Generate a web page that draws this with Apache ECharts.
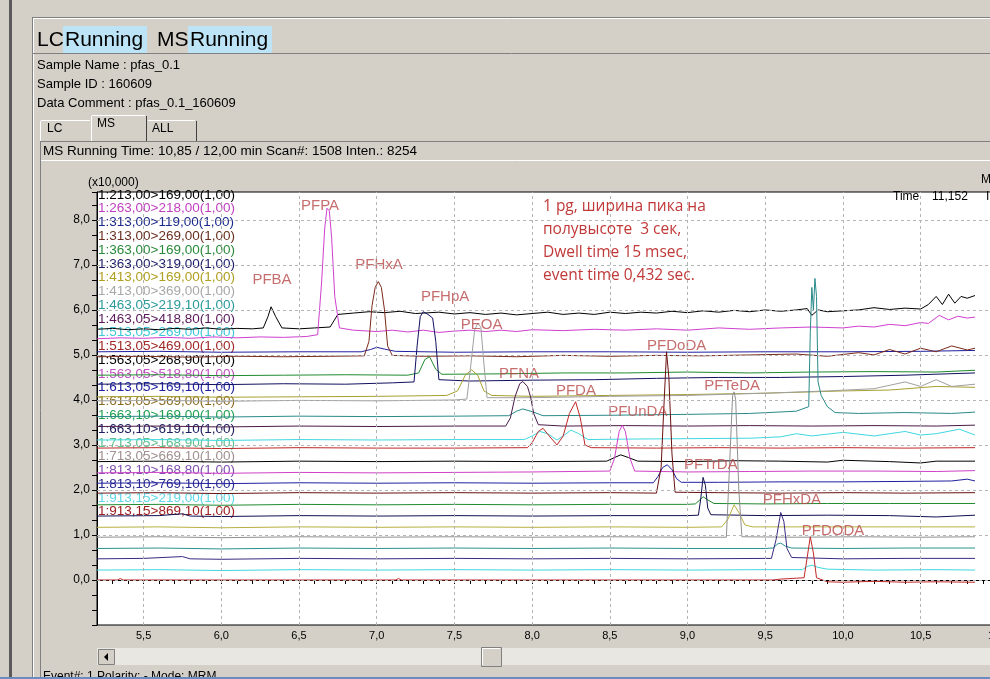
<!DOCTYPE html>
<html><head><meta charset="utf-8">
<script src="https://cdn.jsdelivr.net/npm/echarts@6.0.0/dist/echarts.min.js"></script>
<style>html,body{margin:0;padding:0;background:#d4d0c8}#c{width:990px;height:679px}</style>
</head><body><div id="c"></div><script>
// ---- transitions (legend labels) ----
const transitions = [
'1:213,00>169,00(1,00)','1:263,00>218,00(1,00)','1:313,00>119,00(1,00)','1:313,00>269,00(1,00)',
'1:363,00>169,00(1,00)','1:363,00>319,00(1,00)','1:413,00>169,00(1,00)','1:413,00>369,00(1,00)',
'1:463,05>219,10(1,00)','1:463,05>418,80(1,00)','1:513,05>269,00(1,00)','1:513,05>469,00(1,00)',
'1:563,05>268,90(1,00)','1:563,05>518,80(1,00)','1:613,05>169,10(1,00)','1:613,05>569,00(1,00)',
'1:663,10>169,00(1,00)','1:663,10>619,10(1,00)','1:713,05>168,90(1,00)','1:713,05>669,10(1,00)',
'1:813,10>168,80(1,00)','1:813,10>769,10(1,00)','1:913,15>219,00(1,00)','1:913,15>869,10(1,00)'];
const legendColors = ['#000000','#c040c0','#1c2a8c','#6a3020','#2a8a3a','#1a1a6a','#b0a020','#a8a8a8',
'#2a9a9a','#5a1a5a','#40c8d8','#a02828','#000000','#c050c0','#2020a0','#8a6a20',
'#20a050','#202060','#60c090','#a09090','#8050b0','#2a2a90','#60d8e8','#a02020'];
const traceColors = ['#000000','#d040d0','#2020a0','#7a2a1a','#208a30','#101060','#a8a030','#a0a0a0',
'#2a8a8a','#4a1a4a','#40d8e0','#c02828','#000000','#d040c8','#2020a0','#6a1010',
'#208a30','#101050','#b8b040','#909090','#2a9090','#3a2a80','#40d8e0','#c02828'];

// ---- chromatograms: [time (min), intensity (x10,000)] ----
const t213_169 = [[5.2,5.57],[5.3,5.59],[5.4,5.56],[5.5,5.58],[5.6,5.56],[5.7,5.59],[5.8,5.57],[5.9,5.6],[6.0,5.57],[6.1,5.59],[6.2,5.58],[6.27,5.6],[6.3,5.85],[6.32,6.07],[6.35,5.85],[6.39,5.6],[6.5,5.58],[6.6,5.6],[6.7,5.62],[6.75,5.9],[6.85,5.93],[6.95,5.96],[7.05,5.94],[7.15,5.97],[7.25,5.92],[7.4,5.95],[7.5,5.91],[7.6,5.94],[7.7,5.9],[7.8,5.93],[7.9,5.89],[8.0,5.92],[8.1,5.95],[8.2,5.9],[8.3,5.93],[8.4,5.9],[8.5,5.95],[8.6,5.92],[8.7,5.95],[8.8,5.93],[8.9,5.97],[9.0,5.94],[9.1,5.98],[9.2,5.95],[9.3,5.99],[9.4,5.96],[9.5,6.0],[9.6,5.97],[9.7,6.0],[9.77,6.03],[9.8,5.88],[9.84,6.0],[9.9,5.96],[10.0,5.98],[10.1,6.0],[10.2,6.05],[10.3,6.01],[10.4,6.04],[10.5,6.02],[10.55,6.12],[10.6,6.3],[10.64,6.12],[10.68,6.35],[10.72,6.15],[10.76,6.3],[10.8,6.26],[10.85,6.32]];
const t263_218 = [[5.2,5.36],[5.35,5.38],[5.5,5.37],[5.65,5.39],[5.8,5.37],[5.95,5.4],[6.1,5.38],[6.25,5.4],[6.4,5.39],[6.55,5.41],[6.62,5.45],[6.645,6.6],[6.665,7.8],[6.68,8.26],[6.695,8.2],[6.71,7.6],[6.73,6.3],[6.76,5.6],[6.85,5.55],[7.0,5.52],[7.1,5.55],[7.2,5.51],[7.3,5.55],[7.4,5.5],[7.5,5.53],[7.6,5.55],[7.7,5.52],[7.8,5.55],[7.9,5.52],[8.0,5.56],[8.2,5.54],[8.4,5.57],[8.6,5.55],[8.8,5.58],[9.0,5.55],[9.2,5.6],[9.4,5.57],[9.6,5.6],[9.8,5.62],[10.0,5.6],[10.1,5.64],[10.2,5.62],[10.3,5.68],[10.4,5.65],[10.5,5.72],[10.55,5.7],[10.62,5.88],[10.68,5.78],[10.74,5.86],[10.8,5.82],[10.85,5.84]];
const t313_119 = [[5.2,5.07],[5.6,5.08],[6.0,5.06],[6.5,5.07],[6.9,5.07],[6.96,5.12],[7.0,5.17],[7.05,5.13],[7.12,5.08],[7.5,5.06],[8.0,5.07],[8.5,5.07],[9.0,5.06],[9.5,5.07],[10.0,5.07],[10.5,5.08],[10.85,5.1]];
const t313_269 = [[5.2,4.96],[5.5,4.97],[5.8,4.95],[6.1,4.97],[6.4,4.96],[6.7,4.97],[6.92,4.98],[6.95,5.3],[6.97,6.1],[6.99,6.5],[7.01,6.63],[7.03,6.5],[7.05,6.0],[7.07,5.2],[7.1,4.99],[7.3,4.97],[7.6,4.98],[7.9,4.96],[8.2,4.99],[8.5,4.97],[8.8,4.99],[9.1,4.98],[9.4,5.0],[9.7,5.02],[9.9,4.97],[10.1,5.05],[10.2,5.0],[10.3,5.12],[10.4,5.02],[10.5,5.15],[10.6,5.07],[10.7,5.2],[10.8,5.11],[10.85,5.15]];
const t363_169 = [[5.2,4.55],[5.6,4.56],[6.0,4.54],[6.4,4.55],[6.8,4.56],[7.2,4.55],[7.27,4.6],[7.31,4.9],[7.34,4.96],[7.38,4.68],[7.42,4.57],[7.8,4.58],[8.2,4.6],[8.6,4.6],[9.0,4.62],[9.4,4.6],[9.8,4.62],[10.2,4.63],[10.6,4.62],[10.85,4.66]];
const t363_319 = [[5.2,4.35],[5.6,4.36],[6.0,4.34],[6.4,4.36],[6.8,4.35],[7.1,4.38],[7.24,4.4],[7.26,5.2],[7.28,5.85],[7.3,5.96],[7.33,5.9],[7.36,5.82],[7.38,5.3],[7.4,4.45],[7.6,4.42],[8.0,4.44],[8.4,4.45],[8.8,4.48],[9.2,4.5],[9.6,4.5],[10.0,4.52],[10.4,4.55],[10.85,4.6]];
const t413_169 = [[5.2,4.07],[5.6,4.08],[6.0,4.06],[6.5,4.07],[7.0,4.08],[7.45,4.1],[7.52,4.2],[7.57,4.55],[7.61,4.67],[7.65,4.55],[7.69,4.2],[7.74,4.1],[8.0,4.08],[8.5,4.1],[9.0,4.12],[9.5,4.15],[9.8,4.18],[10.0,4.2],[10.3,4.22],[10.6,4.3],[10.85,4.28]];
const t413_369 = [[5.2,3.98],[5.6,3.99],[6.0,3.97],[6.5,3.99],[7.0,3.98],[7.5,4.0],[7.58,4.02],[7.6,4.6],[7.63,5.55],[7.65,5.7],[7.67,5.62],[7.69,4.8],[7.71,4.05],[8.0,4.05],[8.5,4.08],[9.0,4.1],[9.5,4.15],[9.9,4.2],[10.2,4.25],[10.4,4.4],[10.5,4.3],[10.6,4.45],[10.7,4.3],[10.85,4.35]];
const t463_219 = [[5.2,3.63],[5.6,3.64],[6.0,3.62],[6.5,3.64],[7.0,3.63],[7.5,3.64],[7.85,3.65],[7.9,3.75],[7.94,3.8],[8.0,3.74],[8.07,3.65],[8.5,3.66],[9.0,3.68],[9.4,3.7],[9.7,3.75],[9.78,3.85],[9.79,5.5],[9.8,6.5],[9.81,6.0],[9.82,6.7],[9.83,6.3],[9.84,4.4],[9.86,4.1],[9.9,3.85],[9.95,3.72],[10.1,3.7],[10.4,3.72],[10.7,3.7],[10.85,3.73]];
const t463_418 = [[5.2,3.41],[5.6,3.42],[6.0,3.4],[6.5,3.42],[7.0,3.41],[7.5,3.42],[7.83,3.42],[7.86,3.6],[7.89,4.07],[7.92,4.36],[7.94,4.41],[7.97,4.3],[7.99,4.07],[8.01,3.7],[8.04,3.45],[8.2,3.42],[8.6,3.43],[9.0,3.42],[9.4,3.43],[9.8,3.42],[10.2,3.43],[10.6,3.42],[10.85,3.44]];
const t513_269 = [[5.2,3.11],[5.6,3.12],[6.0,3.1],[6.5,3.12],[7.0,3.11],[7.5,3.12],[7.95,3.12],[8.0,3.2],[8.05,3.3],[8.1,3.25],[8.16,3.11],[8.2,3.2],[8.25,3.33],[8.3,3.25],[8.36,3.12],[8.6,3.13],[9.0,3.14],[9.4,3.15],[9.6,3.18],[9.7,3.25],[9.8,3.2],[10.0,3.28],[10.2,3.2],[10.4,3.3],[10.5,3.22],[10.6,3.25],[10.75,3.35],[10.85,3.22]];
const t513_469 = [[5.2,2.93],[5.6,2.94],[6.0,2.92],[6.5,2.94],[7.0,2.93],[7.5,2.93],[7.97,2.94],[8.0,3.05],[8.04,3.3],[8.07,3.37],[8.11,3.2],[8.16,3.0],[8.2,3.2],[8.24,3.7],[8.28,3.96],[8.31,3.6],[8.34,3.0],[8.38,2.94],[8.8,2.93],[9.2,2.94],[9.6,2.93],[10.0,2.94],[10.4,2.93],[10.85,2.94]];
const t563_268 = [[5.2,2.63],[5.6,2.64],[6.0,2.62],[6.5,2.64],[7.0,2.63],[7.5,2.64],[8.0,2.63],[8.48,2.64],[8.53,2.72],[8.57,2.78],[8.62,2.72],[8.68,2.64],[9.0,2.63],[9.3,2.65],[9.6,2.64],[9.9,2.62],[10.0,2.66],[10.3,2.63],[10.5,2.6],[10.6,2.64],[10.85,2.64]];
const t563_518 = [[5.2,2.38],[5.6,2.39],[6.0,2.37],[6.5,2.39],[7.0,2.38],[7.5,2.39],[8.0,2.4],[8.5,2.42],[8.53,2.7],[8.56,3.3],[8.58,3.44],[8.6,3.3],[8.63,2.7],[8.66,2.42],[9.0,2.4],[9.4,2.41],[9.8,2.42],[10.2,2.42],[10.6,2.41],[10.85,2.43]];
const t613_169 = [[5.2,2.15],[5.6,2.16],[6.0,2.14],[6.5,2.16],[7.0,2.15],[7.5,2.16],[8.0,2.15],[8.5,2.16],[8.78,2.16],[8.81,2.3],[8.84,2.5],[8.87,2.56],[8.9,2.45],[8.93,2.25],[8.96,2.17],[9.2,2.17],[9.6,2.18],[10.0,2.18],[10.4,2.19],[10.7,2.2],[10.8,2.24],[10.85,2.2]];
const t613_569 = [[5.2,1.93],[5.6,1.94],[6.0,1.92],[6.5,1.94],[7.0,1.93],[7.5,1.94],[8.0,1.93],[8.5,1.94],[8.8,1.93],[8.83,2.5],[8.85,4.0],[8.865,5.07],[8.88,4.5],[8.9,2.8],[8.92,1.95],[9.2,1.94],[9.6,1.93],[10.0,1.94],[10.4,1.93],[10.85,1.94]];
const t663_169 = [[5.2,1.67],[5.6,1.68],[6.0,1.66],[6.5,1.68],[7.0,1.67],[7.5,1.68],[8.0,1.67],[8.5,1.68],[9.0,1.68],[9.05,1.69],[9.08,1.78],[9.1,1.85],[9.13,1.78],[9.17,1.7],[9.5,1.69],[9.9,1.7],[10.3,1.7],[10.85,1.7]];
const t663_619 = [[5.2,1.42],[5.6,1.43],[5.75,1.47],[5.8,1.42],[6.0,1.41],[6.5,1.43],[7.0,1.42],[7.5,1.43],[8.0,1.42],[8.5,1.43],[9.0,1.43],[9.07,1.44],[9.085,1.8],[9.1,2.28],[9.115,2.1],[9.13,1.6],[9.15,1.45],[9.5,1.43],[9.9,1.44],[10.3,1.43],[10.6,1.4],[10.85,1.44]];
const t713_168 = [[5.2,1.17],[5.6,1.18],[6.0,1.16],[6.5,1.18],[7.0,1.17],[7.5,1.18],[8.0,1.17],[8.5,1.18],[9.0,1.17],[9.22,1.18],[9.26,1.35],[9.3,1.67],[9.33,1.5],[9.37,1.22],[9.42,1.18],[9.8,1.18],[10.2,1.18],[10.85,1.18]];
const t713_669 = [[5.2,0.95],[5.6,0.96],[6.0,0.94],[6.5,0.96],[7.0,0.95],[7.5,0.96],[8.0,0.95],[8.5,0.96],[9.0,0.95],[9.25,0.95],[9.27,2.5],[9.29,4.1],[9.3,4.18],[9.31,4.0],[9.33,2.0],[9.35,0.96],[9.7,0.95],[10.1,0.96],[10.5,0.95],[10.85,0.96]];
const t813_168 = [[5.2,0.7],[5.6,0.71],[6.0,0.69],[6.5,0.71],[7.0,0.7],[7.5,0.71],[8.0,0.7],[8.5,0.71],[9.0,0.7],[9.5,0.7],[9.55,0.71],[9.58,0.8],[9.6,0.82],[9.63,0.75],[9.67,0.71],[10.0,0.7],[10.4,0.71],[10.85,0.71]];
const t813_769 = [[5.2,0.47],[5.5,0.48],[5.75,0.52],[5.8,0.47],[6.0,0.46],[6.5,0.48],[7.0,0.47],[7.5,0.48],[8.0,0.47],[8.5,0.48],[9.0,0.47],[9.54,0.48],[9.57,0.9],[9.6,1.5],[9.62,1.3],[9.64,0.7],[9.67,0.5],[10.0,0.47],[10.4,0.48],[10.85,0.48]];
const t913_219 = [[5.2,0.22],[5.6,0.23],[6.0,0.21],[6.5,0.23],[7.0,0.22],[7.5,0.23],[8.0,0.22],[8.5,0.23],[9.0,0.22],[9.5,0.23],[9.74,0.23],[9.77,0.3],[9.8,0.33],[9.84,0.28],[9.9,0.24],[10.2,0.22],[10.6,0.23],[10.85,0.22]];
const t913_869 = [[5.2,0.0],[5.33,0.0],[5.35,0.03],[5.37,0.0],[6.0,0.0],[6.5,0.0],[7.0,0.0],[7.12,0.0],[7.14,0.03],[7.16,0.0],[7.3,0.0],[7.31,0.03],[7.33,0.0],[8.0,0.0],[8.5,0.0],[9.0,0.0],[9.24,0.0],[9.25,0.02],[9.3,0.0],[9.55,0.0],[9.6,0.02],[9.7,0.04],[9.75,0.05],[9.77,0.5],[9.79,0.96],[9.81,0.6],[9.83,0.05],[9.9,-0.04],[10.0,-0.05],[10.2,-0.03],[10.4,-0.05],[10.6,-0.04],[10.85,-0.05]];
const traces = [t213_169,t263_218,t313_119,t313_269,t363_169,t363_319,t413_169,t413_369,t463_219,t463_418,t513_269,t513_469,
t563_268,t563_518,t613_169,t613_569,t663_169,t663_619,t713_168,t713_669,t813_168,t813_769,t913_219,t913_869];

// ---- peak annotations (name, anchor time, anchor intensity) ----
const peakNames = ['PFBA','PFPA','PFHxA','PFHpA','PEOA','PFNA','PFDA','PFUnDA','PFDoDA','PFTeDA','PFTrDA','PFHxDA','PFDODA'];
const peakLabelT = [6.326,6.635,7.015,7.44,7.675,7.916,8.282,8.68,8.93,9.287,9.15,9.672,9.936];
const peakLabelV = [6.67,8.31,7.0,6.30,5.67,4.59,4.21,3.74,5.2,4.31,2.56,1.78,1.09];

// ---- axis ticks ----
const xGridTicks = [5.5,6.0,6.5,7.0,7.5,8.0,8.5,9.0,9.5,10.0,10.5,11.0];
const yGridTicks = [0,1,2,3,4,5,6,7,8];

const noteLines = ['1 pg, ширина пика на','полувысоте  3 сек,','Dwell time 15 msec,','event time 0,432 sec.'];

const UI = 'Liberation Sans, Arial, sans-serif';
function T(text,x,y,o){o=o||{};return {type:'text',z:o.z||5,silent:true,style:{text:text,x:x,y:y,fill:o.fill||'#000',font:o.font||('12px '+UI),textAlign:o.align||'left',textVerticalAlign:'middle'}};}
function R(x,y,w,h,fill,stroke,z){return {type:'rect',z:z||4,silent:true,shape:{x:x,y:y,width:w,height:h},style:{fill:fill,stroke:stroke||null,lineWidth:1}};}
function L(x1,y1,x2,y2,c,z){return {type:'line',z:z||4,silent:true,shape:{x1:x1,y1:y1,x2:x2,y2:y2},style:{stroke:c,lineWidth:1}};}

const g = [];
// window frame
g.push(R(9,0,3,679,'#5a5a5a',null,3));
g.push(L(32.5,17,32.5,679,'#808080'), L(33.5,18,33.5,679,'#ffffff'));
g.push(L(32,17.5,990,17.5,'#808080'), L(33,18.5,990,18.5,'#ffffff'));
g.push(L(33,53.5,990,53.5,'#808080'));
// header
g.push(T('LC',37,40,{font:'21px '+UI}));
g.push(R(63,26,84,27,'#bde4f6',null,4));
g.push(T('Running',65,40,{font:'21px '+UI}));
g.push(T('MS',157,40,{font:'21px '+UI}));
g.push(R(188,26,84,27,'#bde4f6',null,4));
g.push(T('Running',190,40,{font:'21px '+UI}));
g.push(T('Sample Name : pfas_0.1',37,65,{font:'13px '+UI}));
g.push(T('Sample ID : 160609',37,84,{font:'13px '+UI}));
g.push(T('Data Comment : pfas_0.1_160609',37,103,{font:'13px '+UI}));
// tabs
g.push(L(40.5,121,40.5,141,'#ffffff'), L(41,120.5,90,120.5,'#ffffff'));
g.push(T('LC',47,129,{font:'12px '+UI}));
g.push(R(91,115,56,27,'#d4d0c8',null,4));
g.push(L(91.5,116,91.5,141,'#ffffff'), L(92,115.5,145,115.5,'#ffffff'), L(146.5,116,146.5,141,'#404040'));
g.push(T('MS',97,124,{font:'12px '+UI}));
g.push(L(148,120.5,195,120.5,'#ffffff'), L(196.5,121,196.5,141,'#404040'));
g.push(T('ALL',152,129,{font:'12px '+UI}));
// status bar
g.push(L(40,141.5,990,141.5,'#808080'), L(40.5,142,40.5,679,'#808080'), L(41,160.5,990,160.5,'#ffffff'));
g.push(T('MS Running Time: 10,85 / 12,00 min Scan#: 1508 Inten.: 8254',43,151,{font:'13.5px '+UI}));
// chart-area captions
g.push(T('(x10,000)',88,183));
g.push(T('M',981,180));
g.push(T('Time',893,197));
g.push(T('11,152',932,197));
g.push(T('I',986,197));
// legend (transition names)
transitions.forEach((s,i)=>g.push(T(s,98,195+13.77*i,{fill:legendColors[i],z:1,font:'13.5px '+UI})));
// note
noteLines.forEach((s,i)=>g.push(T(s,543,207+22.8*i,{fill:'#c03838',font:'15.5px "Open Sans", Lato, sans-serif',z:6})));
// scrollbar
g.push(R(97,648,893,17,'#e9e7e2',null,4));
g.push(R(98.5,649.5,16,15,'#d4d0c8','#808080',4));
g.push({type:'polygon',z:5,silent:true,shape:{points:[[104,657],[108,653],[108,661]]},style:{fill:'#000'}});
g.push(R(481.5,647.5,20,19,'#d4d0c8','#808080',4));
g.push(L(482,648.5,500,648.5,'#ffffff',5), L(482.5,648,482.5,665,'#ffffff',5));
// bottom status
g.push(T('Event#: 1 Polarity: - Mode: MRM',43,677));
g.push(R(0,677,990,2,'#6a8cc0',null,6));

const chart = echarts.init(document.getElementById('c'));
const series = [];
series.push({type:'line',data:[[5.2,-1]],showSymbol:false,symbol:'none',lineStyle:{opacity:0},silent:true,z:1,animation:false,
  markLine:{silent:true,symbol:['none','none'],label:{show:false},animation:false,
    lineStyle:{color:'#b4b4b4',type:[3,3],width:1},
    data: xGridTicks.map(v=>({xAxis:v})).concat(yGridTicks.map(v=>({yAxis:v})))}});
traces.forEach((d,i)=>series.push({type:'line',name:transitions[i],data:d,showSymbol:false,symbol:'none',silent:true,animation:false,z:2,
  lineStyle:{width:1,color:traceColors[i]},itemStyle:{color:traceColors[i]}}));
series.push({type:'scatter',z:3,silent:true,animation:false,symbolSize:1,itemStyle:{color:'rgba(0,0,0,0)'},
  data: peakNames.map((n,i)=>[peakLabelT[i],peakLabelV[i],n]),
  label:{show:true,position:'inside',formatter:p=>p.data[2],color:'#b84848',fontSize:15,fontFamily:UI}});

chart.setOption({
  animation:false,
  backgroundColor:'#d4d0c8',
  grid:{left:97,top:192,width:932.4,height:433,show:true,backgroundColor:'#ffffff',borderColor:'#000',borderWidth:1,containLabel:false,outerBoundsMode:'none'},
  xAxis:{type:'value',min:5.2,max:11.2,interval:0.1,
    axisLine:{show:true,lineStyle:{color:'#000'}},axisTick:{show:true,length:4,lineStyle:{color:'#000'}},
    axisLabel:{color:'#000',fontSize:11,fontFamily:UI,margin:5,formatter:v=>{const k=Math.round(v*10);return k%5===0?(k/10).toFixed(1).replace('.',','):'';}},
    splitLine:{show:false}},
  yAxis:{type:'value',min:-1,max:8.62,interval:1/3,
    axisLine:{show:true,lineStyle:{color:'#000'}},axisTick:{show:true,length:5,lineStyle:{color:'#000'}},
    axisLabel:{color:'#000',fontSize:12,fontFamily:UI,margin:7,formatter:v=>(v>-0.5&&Math.abs(v-Math.round(v))<0.01)?Math.round(v).toFixed(1).replace('.',','):''},
    splitLine:{show:false}},
  graphic:{elements:g},
  series:series
});
</script></body></html>
